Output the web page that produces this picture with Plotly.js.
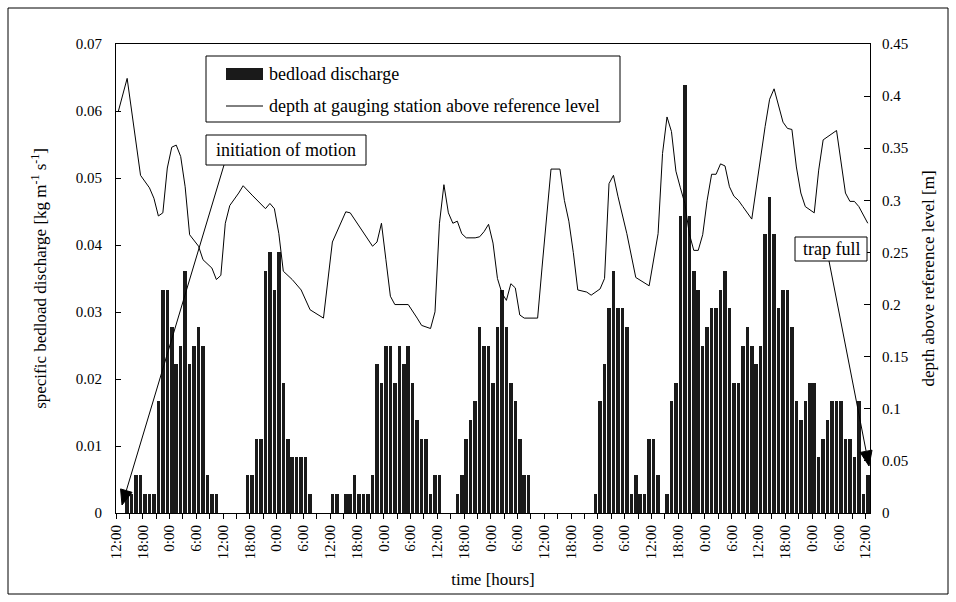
<!DOCTYPE html>
<html>
<head>
<meta charset="utf-8">
<script src="https://cdn.plot.ly/plotly-3.0.1.min.js"></script>
<style>html,body{margin:0;padding:0;background:#fff;}#chart{width:956px;height:602px;}</style>
</head>
<body>
<div id="chart"></div>
<script>
// hourly categories (0 = 12:00 on day 1)
const hours = [0,1,2,3,4,5,6,7,8,9,10,11,12,13,14,15,16,17,18,19,20,21,22,23,24,25,26,27,28,29,30,31,32,33,34,35,36,37,38,39,40,41,42,43,44,45,46,47,48,49,50,51,52,53,54,55,56,57,58,59,60,61,62,63,64,65,66,67,68,69,70,71,72,73,74,75,76,77,78,79,80,81,82,83,84,85,86,87,88,89,90,91,92,93,94,95,96,97,98,99,100,101,102,103,104,105,106,107,108,109,110,111,112,113,114,115,116,117,118,119,120,121,122,123,124,125,126,127,128,129,130,131,132,133,134,135,136,137,138,139,140,141,142,143,144,145,146,147,148,149,150,151,152,153,154,155,156,157,158,159,160,161,162,163,164,165,166,167,168];

// specific bedload discharge [kg m-1 s-1]
const bedload = [
 0,0,0.0028,0.0028,0.0056,0.0056,0.0028,0.0028,0.0028,0.0167,
 0.0333,0.0333,0.0278,0.0222,0.025,0.0361,0.0222,0.025,0.0278,0.025,
 0.0056,0.0028,0.0028,0,0,0,0,0,0,0.0056,
 0.0056,0.0111,0.0111,0.0361,0.0389,0.0333,0.0389,0.0194,0.0111,0.0083,
 0.0083,0.0083,0.0083,0.0028,0,0,0,0,0.0028,0.0028,
 0,0.0028,0.0028,0.0056,0.0028,0.0028,0.0028,0.0056,0.0222,0.0194,
 0.025,0.025,0.0194,0.025,0.0222,0.025,0.0194,0.0139,0.0111,0.0111,
 0.0028,0.0056,0.0056,0,0,0,0.0028,0.0056,0.0111,0.0139,
 0.0167,0.0278,0.025,0.025,0.0194,0.0278,0.0333,0.0278,0.0194,0.0167,
 0.0111,0.0056,0.0056,0,0,0,0,0,0,0,
 0,0,0,0,0,0,0,0.0028,0.0167,0.0222,
 0.0306,0.0361,0.0306,0.0306,0.0278,0.0028,0.0056,0.0028,0.0028,0.0111,
 0.0111,0.0056,0,0.0028,0.0167,0.0194,0.0444,0.0639,0.0444,0.0361,
 0.0333,0.025,0.0278,0.0306,0.0306,0.0333,0.0361,0.0306,0.0194,0.0194,
 0.025,0.0278,0.025,0.0222,0.025,0.0417,0.0472,0.0417,0.0306,0.0333,
 0.0333,0.0278,0.0167,0.0139,0.0167,0.0194,0.0194,0.0083,0.0111,0.0139,
 0.0167,0.0167,0.0167,0.0111,0.0111,0.0083,0.0167,0.0028,0.0056
];

// depth at gauging station above reference level [m] (vertices)
const depthHours = [0,2,5,7,8,9,10,11,12,13,14,15,16,18,19,21,22,23,24,25,27,28,30,33,34,35,36,37,39,41,43,46,48,51,52,57,58,59,60,61,62,65,67,68,70,71,72,73,74,75,76,77,78,80,81,82,83,84,85,86,87,88,89,90,91,94,95,97,99,100,101,102,103,105,106,108,109,110,111,112,114,116,119,121,122,123,124,125,126,127,128,129,130,131,132,133,134,135,136,137,138,139,140,141,142,145,146,147,148,149,150,151,152,153,154,156,157,158,161,163,164,165,166,168];
const depth = [0.385,0.417,0.324,0.312,0.302,0.285,0.288,0.331,0.351,0.353,0.342,0.313,0.267,0.256,0.243,0.235,0.224,0.228,0.278,0.295,0.307,0.314,0.305,0.292,0.297,0.292,0.268,0.232,0.224,0.214,0.195,0.187,0.260,0.289,0.288,0.256,0.260,0.278,0.243,0.208,0.200,0.200,0.187,0.180,0.177,0.193,0.278,0.315,0.288,0.278,0.280,0.268,0.264,0.264,0.265,0.270,0.277,0.259,0.225,0.211,0.204,0.220,0.216,0.190,0.187,0.187,0.236,0.330,0.330,0.300,0.280,0.250,0.214,0.212,0.209,0.215,0.225,0.316,0.324,0.304,0.268,0.226,0.218,0.268,0.345,0.380,0.366,0.328,0.312,0.297,0.268,0.252,0.252,0.267,0.300,0.325,0.325,0.335,0.333,0.313,0.304,0.300,0.294,0.288,0.282,0.371,0.397,0.407,0.392,0.375,0.369,0.368,0.332,0.307,0.294,0.288,0.329,0.358,0.367,0.307,0.299,0.299,0.294,0.278];

// x tick labels every 6 hours, minor ticks in between (every 3 hours)
const tickLabels = ['12:00','18:00','0:00','6:00','12:00','18:00','0:00','6:00','12:00','18:00','0:00','6:00','12:00','18:00','0:00','6:00','12:00','18:00','0:00','6:00','12:00','18:00','0:00','6:00','12:00','18:00','0:00','6:00','12:00'];

const tickvals = tickLabels.map((lab, i) => i * 6 - 0.5);
const minorvals = tickLabels.slice(1).map((lab, i) => i * 6 + 2.5);

const FONT = 'Liberation Serif, Times New Roman, serif';

const traces = [
  {type: 'bar', x: hours, y: bedload, name: 'bedload discharge', width: 0.8,
   marker: {color: '#1a1a1a', line: {width: 0}}, yaxis: 'y', showlegend: false},
  {type: 'scatter', mode: 'lines', x: depthHours, y: depth,
   name: 'depth at gauging station above reference level',
   line: {color: '#000', width: 1}, yaxis: 'y2', showlegend: false}
];

// pixel helpers for layout decorations (plot area: x 116..870, y 44..513)
const PL = 116, PR = 870, PT = 44, PB = 513;
const px = v => (v - PL) / (PR - PL);
const py = v => (PB - v) / (PB - PT);

// arrow (line + filled head) as shapes, given pixel tail and tip
function arrowShapes(tx, ty, hx, hy) {
  const dx = hx - tx, dy = hy - ty, L = Math.hypot(dx, dy);
  const ux = dx / L, uy = dy / L, len = 15, hw = 6;
  const bx = hx - ux * len, by = hy - uy * len;
  const c1x = bx + (-uy) * hw, c1y = by + ux * hw;
  const c2x = bx - (-uy) * hw, c2y = by - ux * hw;
  return [
    {type: 'line', xref: 'paper', yref: 'paper', x0: px(tx), y0: py(ty), x1: px(bx), y1: py(by),
     line: {color: '#000', width: 1}},
    {type: 'path', xref: 'paper', yref: 'paper',
     path: `M${px(hx)},${py(hy)} L${px(c1x)},${py(c1y)} L${px(c2x)},${py(c2y)} Z`,
     fillcolor: '#000', line: {color: '#000', width: 1}}
  ];
}

const boxes = [
  // outer chart frame
  {type: 'rect', xref: 'paper', yref: 'paper', x0: px(8), x1: px(948), y0: py(594), y1: py(8),
   line: {color: '#000', width: 1}, fillcolor: 'rgba(0,0,0,0)'},
  // legend box
  {type: 'rect', xref: 'paper', yref: 'paper', x0: px(206), x1: px(620), y0: py(122), y1: py(56),
   line: {color: '#000', width: 1}, fillcolor: '#fff'},
  // legend bar symbol
  {type: 'rect', xref: 'paper', yref: 'paper', x0: px(226), x1: px(263), y0: py(80), y1: py(68),
   line: {width: 0}, fillcolor: '#1a1a1a'},
  // legend line symbol
  {type: 'line', xref: 'paper', yref: 'paper', x0: px(226), x1: px(263), y0: py(106), y1: py(106),
   line: {color: '#000', width: 1}},
  // "initiation of motion" box
  {type: 'rect', xref: 'paper', yref: 'paper', x0: px(206), x1: px(366), y0: py(165), y1: py(135),
   line: {color: '#000', width: 1}, fillcolor: '#fff'},
  // "trap full" box
  {type: 'rect', xref: 'paper', yref: 'paper', x0: px(795), x1: px(867), y0: py(261), y1: py(237),
   line: {color: '#000', width: 1}, fillcolor: '#fff'}
];

const layout = {
  width: 956, height: 602,
  margin: {l: PL, r: 956 - PR, t: PT, b: 602 - PB},
  paper_bgcolor: '#fff', plot_bgcolor: '#fff',
  font: {family: FONT, size: 15, color: '#000'},
  bargap: 0,
  showlegend: false,
  xaxis: {
    range: [-0.5, 168.5], tickmode: 'array', tickvals: tickvals, ticktext: tickLabels,
    tickangle: -90, ticks: 'outside', ticklen: 5, tickcolor: '#000',
    minor: {tickmode: 'array', tickvals: minorvals, ticks: 'outside', ticklen: 5, tickcolor: '#000', showgrid: false},
    showline: true, linecolor: '#000', linewidth: 1, mirror: true,
    showgrid: false, zeroline: false,
    tickfont: {family: FONT, size: 15, color: '#000'},
    title: {text: 'time [hours]', font: {family: FONT, size: 17, color: '#000'}, standoff: 14}
  },
  yaxis: {
    range: [0, 0.07], dtick: 0.01, tick0: 0,
    ticks: 'inside', ticklen: 5, tickcolor: '#000',
    showline: true, linecolor: '#000', linewidth: 1,
    showgrid: false, zeroline: false, ticklabelstandoff: 10,
    tickfont: {family: FONT, size: 15, color: '#000'},
    title: {text: 'specific bedload discharge [kg m<sup>-1</sup> s<sup>-1</sup>]',
            font: {family: FONT, size: 17, color: '#000'}, standoff: 24}
  },
  yaxis2: {
    range: [0, 0.45], dtick: 0.05, tick0: 0, overlaying: 'y', side: 'right',
    ticks: 'inside', ticklen: 6, tickcolor: '#000',
    showline: true, linecolor: '#000', linewidth: 1,
    showgrid: false, zeroline: false, ticklabelstandoff: 8,
    tickfont: {family: FONT, size: 15, color: '#000'},
    title: {text: 'depth above reference level [m]',
            font: {family: FONT, size: 17, color: '#000'}, standoff: 14}
  },
  shapes: boxes
    .concat(arrowShapes(224, 165, 122, 505))
    .concat(arrowShapes(829, 261, 869, 466)),
  annotations: [
    {xref: 'paper', yref: 'paper', x: px(267), y: py(74), xanchor: 'left', yanchor: 'middle',
     text: 'bedload discharge', showarrow: false, font: {family: FONT, size: 18, color: '#000'}},
    {xref: 'paper', yref: 'paper', x: px(267), y: py(106), xanchor: 'left', yanchor: 'middle',
     text: 'depth at gauging station above reference level', showarrow: false,
     font: {family: FONT, size: 18, color: '#000'}},
    {xref: 'paper', yref: 'paper', x: px(286), y: py(150), xanchor: 'center', yanchor: 'middle',
     text: 'initiation of motion', showarrow: false,
     font: {family: FONT, size: 18, color: '#000'}},
    {xref: 'paper', yref: 'paper', x: px(831), y: py(249), xanchor: 'center', yanchor: 'middle',
     text: 'trap full', showarrow: false,
     font: {family: FONT, size: 18, color: '#000'}}
  ]
};

Plotly.newPlot('chart', traces, layout, {displayModeBar: false, staticPlot: true});
</script>
</body>
</html>
